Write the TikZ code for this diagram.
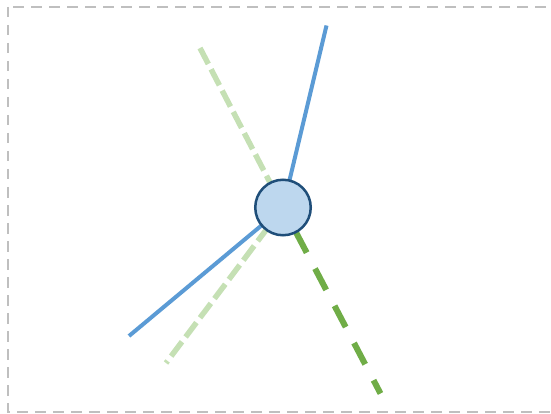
\documentclass[tikz,border=0pt]{standalone}
\usepackage{tikz}
\usetikzlibrary{backgrounds}
\definecolor{FrameGray}{HTML}{BFBFBF}
\definecolor{HubFill}{HTML}{BDD7EE}
\definecolor{HubEdge}{HTML}{1F4E79}
\definecolor{SpokeBlue}{HTML}{5B9BD5}
\definecolor{PaleGreen}{HTML}{C5E0B4}
\definecolor{LeafGreen}{HTML}{70AD47}

\begin{document}
\begin{tikzpicture}[x=1pt,y=-1pt,
  hub/.style={circle,draw=HubEdge,fill=HubFill,line width=2.5pt,minimum size=55.5pt,inner sep=0pt},
  bluespoke/.style={SpokeBlue,line width=4pt},
  palespoke/.style={PaleGreen,line width=5.5pt,dash pattern=on 18pt off 6pt},
  greenspoke/.style={LeafGreen,line width=6pt,dash pattern=on 24pt off 18pt,dash phase=15pt}]
  \useasboundingbox (0,0) rectangle (551,414);
  \draw[FrameGray,line width=2pt,dash pattern=on 10.5pt off 7.5pt] (7.5,7) rectangle (556,411.5);
  % hub with its five spokes behind it
  \node[hub] (hub) at (283,207.5) {};
  \coordinate (bluetop) at (326.5,25.5);
  \coordinate (bluelow) at (129,336);
  \coordinate (palenw) at (200,48);
  \coordinate (palesw) at (166,363);
  \coordinate (greense) at (380.5,393.5);
  \begin{scope}[on background layer]
    \draw[bluespoke] (hub.center) -- (bluetop);
    \draw[bluespoke] (hub.center) -- (bluelow);
    \draw[palespoke] (palenw) -- (hub.center);
    \draw[palespoke] (hub.center) -- (palesw);
    \draw[greenspoke] (hub.center) -- (greense);
  \end{scope}
\end{tikzpicture}
\end{document}
